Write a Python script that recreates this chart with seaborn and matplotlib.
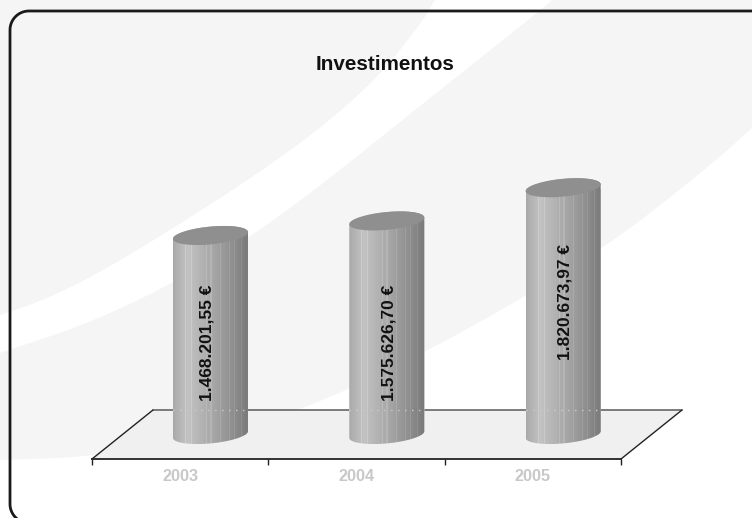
import matplotlib
matplotlib.use("Agg")
import matplotlib.pyplot as plt
import numpy as np
import pandas as pd
import seaborn as sns
from matplotlib.patches import Polygon

years = ["2003", "2004", "2005"]
investimentos = [1468201.55, 1575626.70, 1820673.97]
value_labels = ["1.468.201,55 €", "1.575.626,70 €", "1.820.673,97 €"]
chart_title = "Investimentos"

W, H = 752, 518
PX_PER_EURO = 199 / 1468201.55
BAR_PX = 75
CAT_PX = 176.3
ZERO_PX = 434.5
SHEAR = 0.09
MINOR_PX = 8.9

# shading across a cylinder, one value per pixel column
shade_pos = [0, 5, 14, 35, 60, 75]
shade_val = [0.66, 0.70, 0.76, 0.67, 0.55, 0.47]
stripes = [12, 18, 33, 37, 46, 55, 60, 67]

# where the value labels sit, in pixels
label_x = [207, 388.5, 564.5]
label_y = [343, 343, 302]


def px_rect(left, top, right, bottom):
    return [left / W, 1 - bottom / H, (right - left) / W, (bottom - top) / H]


def ellipse_part(t, cx, value):
    dx = BAR_PX / 2 * np.cos(t)
    dy = MINOR_PX * np.sin(t) + SHEAR * dx
    return cx + dx / CAT_PX, value + dy / PX_PER_EURO


def smooth(points, rounds=3):
    # corner cutting, keeps both end points
    pts = np.array(points, dtype=float)
    for _ in range(rounds):
        a, b = pts[:-1], pts[1:]
        cut = np.empty((2 * len(a), 2))
        cut[0::2] = 0.75 * a + 0.25 * b
        cut[1::2] = 0.25 * a + 0.75 * b
        pts = np.vstack([pts[0], cut, pts[-1]])
    return pts


def frame_line(left, top, bottom, r):
    t = np.linspace(0, np.pi / 2, 30)
    low_corner = np.column_stack([left + r - r * np.sin(t), bottom - r + r * np.cos(t)])
    top_corner = np.column_stack([left + r - r * np.cos(t), top + r - r * np.sin(t)])
    return np.vstack([low_corner, top_corner, [[W + 10, top]]])


def plot():
    sns.set_style("white")
    plt.rcParams["font.family"] = ["Liberation Sans", "DejaVu Sans"]

    fig = plt.figure(figsize=(W / 100, H / 100), dpi=100, facecolor="white")

    # background swooshes, floor and frame, in pixel coordinates
    bg = fig.add_axes([0, 0, 1, 1])
    bg.set_xlim(0, W)
    bg.set_ylim(H, 0)
    bg.axis("off")
    grey = "#f5f5f5"
    upper = smooth([(435, 0), (420, 25), (370, 87), (280, 160), (123, 260), (50, 298), (0, 315)])
    band_low = smooth([(552, 0), (537, 13), (430, 98), (280, 218), (180, 280), (90, 323), (0, 353)])
    ground = smooth([(0, 460), (90, 457), (200, 440), (310, 408), (450, 340), (600, 252),
                     (705, 170), (752, 128)])
    bg.add_patch(Polygon(np.vstack([[(0, 0)], upper]), color=grey, lw=0))
    bg.add_patch(Polygon(np.vstack([band_low, ground, [(752, 0)]]), color=grey, lw=0))
    bg.add_patch(Polygon([(92, 459), (621, 459), (682, 410), (153, 410)],
                         facecolor="#f0f0f0", edgecolor="none"))
    bg.plot([153, 682], [410, 410], color="#666666", lw=1.2)
    bg.plot([92, 153], [459, 410], color="#222222", lw=1)
    bg.plot([621, 682], [459, 410], color="#222222", lw=1)
    frame = frame_line(10, 11, 523, 19)
    bg.plot(frame[:, 0], frame[:, 1], color="#1a1a1a", lw=2)
    bg.text(385.5, 64.5, chart_title, ha="center", va="center", fontsize=14.9,
            fontweight="bold", color="#111111")

    # front axis with the category labels
    front = fig.add_axes(px_rect(92, 400, 621, 459))
    front.patch.set_alpha(0)
    front.set_xlim(-0.5, 2.5)
    front.set_ylim(0, 1)
    front.set_xticks(range(len(years)), years)
    front.set_xticks(np.arange(-0.5, 3), minor=True)
    front.set_yticks([])
    front.tick_params(axis="x", which="major", length=0, pad=7, labelsize=11.7,
                      labelcolor="#c8c8c8")
    front.tick_params(axis="x", which="minor", length=4, width=1, color="#222222", bottom=True)
    for label in front.get_xticklabels():
        label.set_fontweight("bold")
    sns.despine(ax=front, left=True)
    front.spines["bottom"].set_color("#222222")
    front.spines["bottom"].set_linewidth(1.3)

    # the cylinders sit on the floor, offset from the front axis
    ax = fig.add_axes(px_rect(122.3, 0, 651.3, 470))
    df = pd.DataFrame({"ano": years, "valor": investimentos})
    sns.barplot(data=df, x="ano", y="valor", color="#a0a0a0", width=BAR_PX / CAT_PX,
                saturation=1, ax=ax)
    ylim = (-(470 - ZERO_PX) / PX_PER_EURO, ZERO_PX / PX_PER_EURO)
    ax.axis("off")

    shade = np.interp(np.arange(BAR_PX), shade_pos, shade_val)
    shade[stripes] += 0.05
    strip = shade[np.newaxis, :]

    half = BAR_PX / CAT_PX / 2
    for i, (bar, value) in enumerate(zip(ax.patches, investimentos)):
        cx = bar.get_x() + bar.get_width() / 2
        xs_low, ys_low = ellipse_part(np.linspace(np.pi, 2 * np.pi, 60), cx, 0)
        xs_top, ys_top = ellipse_part(np.linspace(0, np.pi, 60), cx, value)
        outline = Polygon(np.column_stack([np.r_[xs_low, xs_top], np.r_[ys_low, ys_top]]),
                          transform=ax.transData, facecolor="none", edgecolor="none")
        ax.add_patch(outline)
        im = ax.imshow(strip, cmap="gray", vmin=0, vmax=1, aspect="auto", interpolation="nearest",
                       extent=[cx - half, cx + half, -20 / PX_PER_EURO, value + 20 / PX_PER_EURO],
                       zorder=3)
        im.set_clip_path(outline)
        bar.set_clip_path(outline)

        xs, ys = ellipse_part(np.linspace(0, 2 * np.pi, 120), cx, value)
        ax.fill(xs, ys, color="#8f8f8f", lw=0, zorder=4)

        # back edge of the floor shows faintly through the cylinder
        back = (ZERO_PX - 410) / PX_PER_EURO
        ax.plot([cx - half, cx + half], [back, back], color="#cccccc", lw=1,
                ls=(0, (1, 4)), zorder=5)

        ax.annotate(value_labels[i], xy=(label_x[i] / W, 1 - label_y[i] / H),
                    xycoords="figure fraction", rotation=90, ha="center", va="center",
                    fontsize=12.5, fontweight="bold", color="#111111", zorder=6)

    ax.set_xlim(-0.5, 2.5)
    ax.set_ylim(*ylim)

    fig.savefig("out.png", dpi=100)


if __name__ == "__main__":
    plot()
